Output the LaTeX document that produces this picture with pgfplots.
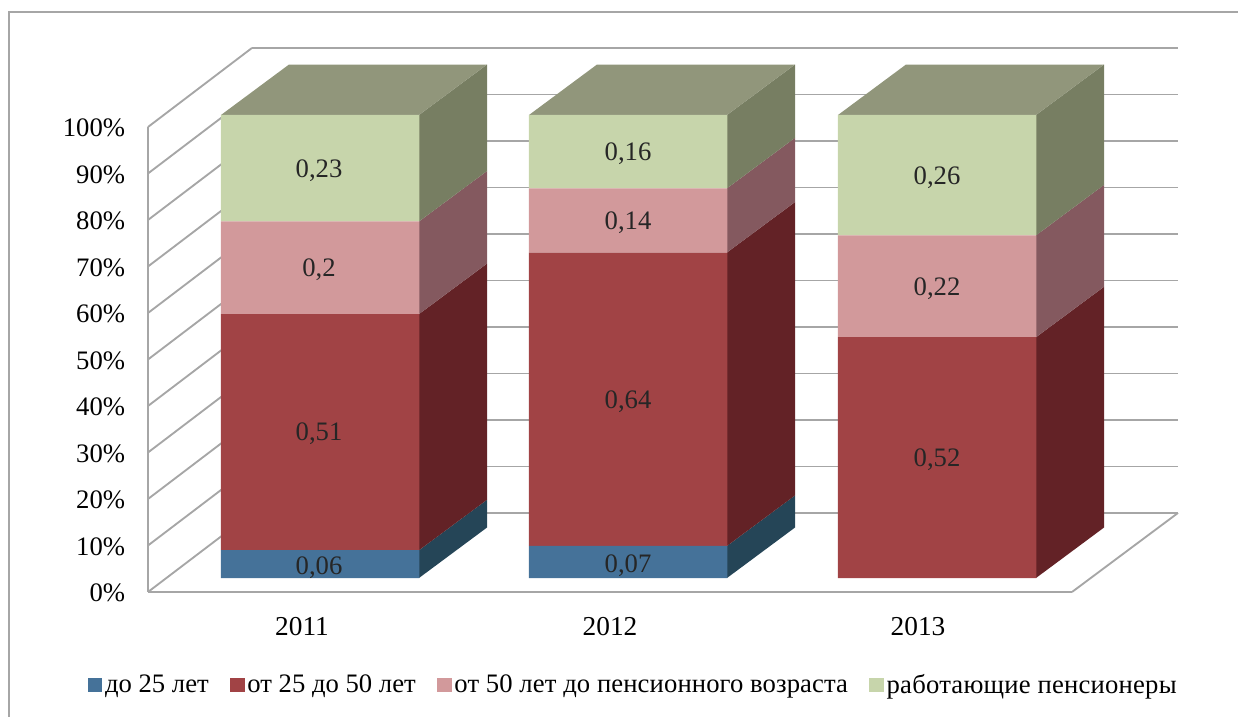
\documentclass[border=0pt]{standalone}
\usepackage{pgfplots}
\pgfplotsset{compat=1.18}
\usepackage{pgfplotstable}
\usepackage{fontspec}
\setmainfont{Liberation Serif}
\definecolor{blueF}{HTML}{457299}\definecolor{blueS}{HTML}{254557}
\definecolor{redF}{HTML}{A14345}\definecolor{redS}{HTML}{632226}
\definecolor{pinkF}{HTML}{D2999B}\definecolor{pinkS}{HTML}{84595F}
\definecolor{greenF}{HTML}{C7D5AB}\definecolor{greenS}{HTML}{777E62}
\definecolor{topF}{HTML}{91967B}
\definecolor{wall}{HTML}{A6A6A6}
\pgfplotstableread{
x    a     b      c      d
320  6     51     20     23
628  6.93  63.37  13.86  15.84
937  0     52     22     26
}\shares
\pgfplotsset{base/.style={scale only axis,width=693pt,xmin=148,xmax=1072,clip=false}}
\tikzset{v/.style={font=\fontsize{20}{22}\selectfont,text=black!85,inner sep=0pt,yshift=-1.5pt}}
\begin{document}
\begin{tikzpicture}
\path[use as bounding box] (-111pt,-93.75pt) rectangle (817.5pt,444pt);
\draw[wall,line width=1.5pt] (-104.25pt,-93.75pt) -- (-104.25pt,435pt) -- (817.5pt,435pt);
% walls, floor, value axis
\begin{axis}[base,height=348.75pt,ymin=0,ymax=100,no markers,
  axis x line=bottom,axis y line=left,
  axis line style={-,draw=wall,line width=1.5pt},
  major tick length=0pt,
  xtick={302,610,918},xticklabels={2011,2012,2013},
  ytick={0,10,20,30,40,50,60,70,80,90,100},
  yticklabels={0\%,10\%,20\%,30\%,40\%,50\%,60\%,70\%,80\%,90\%,100\%},
  yticklabel style={font=\fontsize{20}{22}\selectfont,inner xsep=0pt,xshift=-17pt,yshift=-0.7pt},
  xticklabel style={font=\fontsize{20.5}{22}\selectfont,inner ysep=0pt,yshift=-18.5pt},
  every axis plot post/.append style={forget plot,mark=none,draw=wall,line width=1.4pt}]
\addplot coordinates {(252,17)(1178,17)};
\addplot coordinates {(252,27)(1178,27)};
\addplot coordinates {(252,37)(1178,37)};
\addplot coordinates {(252,47)(1178,47)};
\addplot coordinates {(252,57)(1178,57)};
\addplot coordinates {(252,67)(1178,67)};
\addplot coordinates {(252,77)(1178,77)};
\addplot coordinates {(252,87)(1178,87)};
\addplot coordinates {(252,97)(1178,97)};
\addplot coordinates {(252,107)(1178,107)};
\addplot coordinates {(252,117)(1178,117)};
\addplot coordinates {(148,0)(252,17)};
\addplot coordinates {(148,10)(252,27)};
\addplot coordinates {(148,20)(252,37)};
\addplot coordinates {(148,30)(252,47)};
\addplot coordinates {(148,40)(252,57)};
\addplot coordinates {(148,50)(252,67)};
\addplot coordinates {(148,60)(252,77)};
\addplot coordinates {(148,70)(252,87)};
\addplot coordinates {(148,80)(252,97)};
\addplot coordinates {(148,90)(252,107)};
\addplot coordinates {(148,100)(252,117)};
\addplot coordinates {(1072,0)(1178,17)};
\end{axis}
% side and top faces of the boxes
\begin{axis}[base,at={(0pt,10.5pt)},height=347.25pt,ymin=0,ymax=100,hide axis,no markers,
  every axis plot/.append style={forget plot,draw=none}]
\addplot[fill=blueS]  coordinates {(419,0)(487,10.9)(487,16.9)(419,6)};
\addplot[fill=redS]   coordinates {(419,6)(487,16.9)(487,67.9)(419,57)};
\addplot[fill=pinkS]  coordinates {(419,57)(487,67.9)(487,87.9)(419,77)};
\addplot[fill=greenS] coordinates {(419,77)(487,87.9)(487,110.9)(419,100)};
\addplot[fill=topF]   coordinates {(221,100)(289,110.9)(487,110.9)(419,100)};
\addplot[fill=blueS]  coordinates {(727,0)(795,10.9)(795,17.83)(727,6.93)};
\addplot[fill=redS]   coordinates {(727,6.93)(795,17.83)(795,81.2)(727,70.3)};
\addplot[fill=pinkS]  coordinates {(727,70.3)(795,81.2)(795,95.06)(727,84.16)};
\addplot[fill=greenS] coordinates {(727,84.16)(795,95.06)(795,110.9)(727,100)};
\addplot[fill=topF]   coordinates {(529,100)(597,110.9)(795,110.9)(727,100)};
\addplot[fill=redS]   coordinates {(1036,0)(1104,10.9)(1104,62.9)(1036,52)};
\addplot[fill=pinkS]  coordinates {(1036,52)(1104,62.9)(1104,84.9)(1036,74)};
\addplot[fill=greenS] coordinates {(1036,74)(1104,84.9)(1104,110.9)(1036,100)};
\addplot[fill=topF]   coordinates {(838,100)(906,110.9)(1104,110.9)(1036,100)};
\end{axis}
% front faces and legend
\begin{axis}[base,at={(0pt,10.5pt)},height=347.25pt,ymin=0,ymax=100,hide axis,
  ybar stacked,bar width=198.5,
  legend columns=4,
  legend image code/.code={\fill[#1] (0pt,-5.5pt) rectangle (11pt,5.5pt);},
  legend style={at={(0.5255,-0.231)},anchor=center,draw=none,fill=none,
    font=\fontsize{20}{22}\selectfont,inner sep=0pt,
    /tikz/column 2/.style={column sep=14pt},
    /tikz/column 4/.style={column sep=14pt},
    /tikz/column 6/.style={column sep=14pt}}]
\addplot[fill=blueF,draw=none]  table[x=x,y=a] {\shares};
\addplot[fill=redF,draw=none]   table[x=x,y=b] {\shares};
\addplot[fill=pinkF,draw=none]  table[x=x,y=c] {\shares};
\addplot[fill=greenF,draw=none] table[x=x,y=d] {\shares};
\legend{до 25 лет,от 25 до 50 лет,{\addfontfeature{LetterSpace=0.4}от 50 лет до пенсионного возраста},{\addfontfeature{LetterSpace=0.8}работающие пенсионеры}}
\end{axis}
% value labels
\begin{axis}[base,at={(0pt,10.5pt)},height=347.25pt,ymin=0,ymax=100,hide axis]
\node[v] at (axis cs:319,2.6) {0,06};
\node[v] at (axis cs:319,31.5) {0,51};
\node[v] at (axis cs:319,67) {0,2};
\node[v] at (axis cs:319,88.5) {0,23};
\node[v] at (axis cs:628,3.0) {0,07};
\node[v] at (axis cs:628,38.6) {0,64};
\node[v] at (axis cs:628,77.2) {0,14};
\node[v] at (axis cs:628,92.1) {0,16};
\node[v] at (axis cs:937,26) {0,52};
\node[v] at (axis cs:937,63) {0,22};
\node[v] at (axis cs:937,87) {0,26};
\end{axis}
\end{tikzpicture}
\end{document}
